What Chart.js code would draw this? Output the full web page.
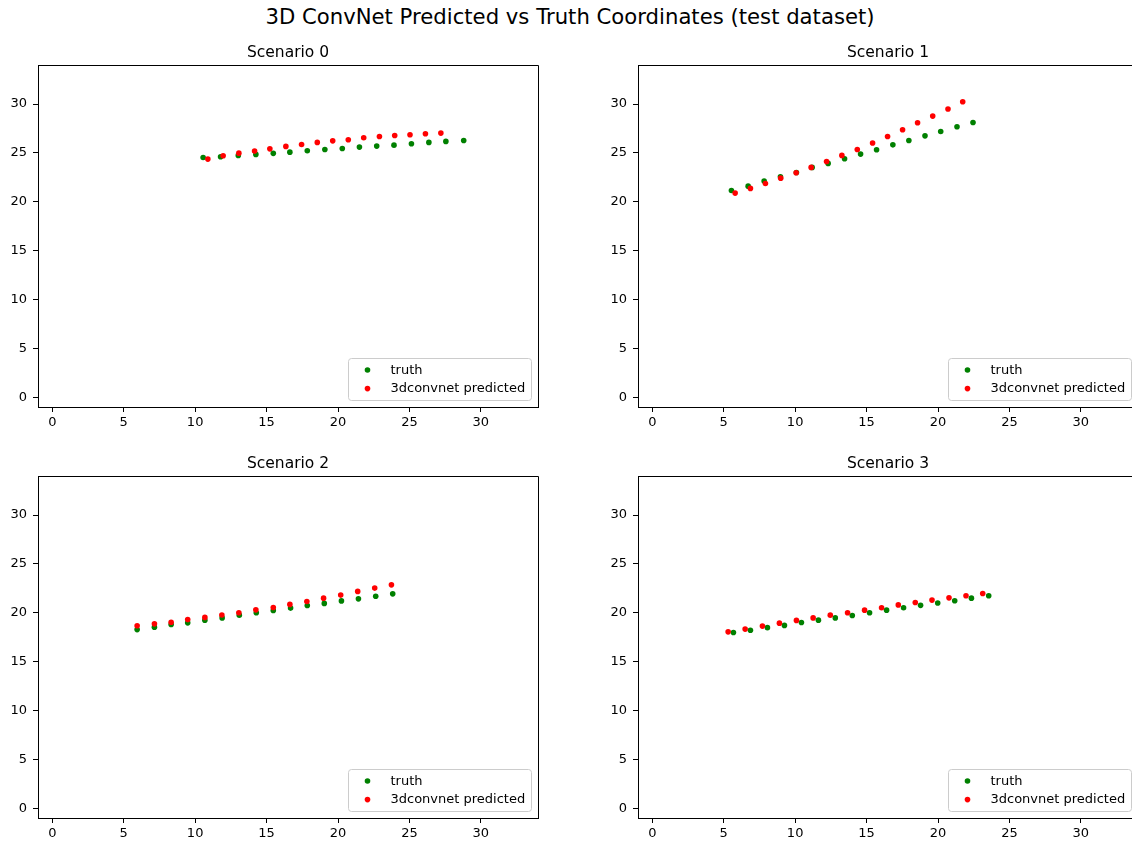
<!DOCTYPE html>
<html>
<head>
<meta charset="utf-8">
<script src="https://cdn.jsdelivr.net/npm/chart.js@4.4.1/dist/chart.umd.min.js"></script>
<style>
  body { margin: 0; width: 1132px; height: 842px; overflow: hidden; background: #fff; position: relative; font-family: "DejaVu Sans", sans-serif; }
  #suptitle { position: absolute; left: 0; top: 4px; width: 1140px; text-align: center; font-size: 21.2px; line-height: 26px; color: #000; }
  canvas { position: absolute; }
</style>
</head>
<body>
<div id="suptitle">3D ConvNet Predicted vs Truth Coordinates (test dataset)</div>
<canvas id="s0" width="560" height="410" style="left:0px;top:30px"></canvas>
<canvas id="s1" width="560" height="410" style="left:600px;top:30px"></canvas>
<canvas id="s2" width="560" height="410" style="left:0px;top:441px"></canvas>
<canvas id="s3" width="560" height="410" style="left:600px;top:441px"></canvas>
<script>
const scenarioTitles = ["Scenario 0", "Scenario 1", "Scenario 2", "Scenario 3"];
const seriesLabels = ["truth", "3dconvnet predicted"];
const tickValues = [0, 5, 10, 15, 20, 25, 30];
const axisMin = -1;
const axisMax = 34;

// scenario 0
const truthX0 = [10.56, 11.78, 13.02, 14.25, 15.47, 16.63, 17.85, 19.08, 20.30, 21.50, 22.71, 23.92, 25.14, 26.36, 27.55, 28.80];
const truthY0 = [24.54, 24.61, 24.75, 24.85, 24.96, 25.08, 25.22, 25.36, 25.46, 25.60, 25.70, 25.80, 25.94, 26.08, 26.18, 26.28];
const predX0 = [10.89, 11.96, 13.06, 14.16, 15.23, 16.35, 17.45, 18.55, 19.63, 20.72, 21.80, 22.90, 23.97, 25.04, 26.12, 27.20];
const predY0 = [24.37, 24.71, 24.98, 25.19, 25.42, 25.67, 25.87, 26.08, 26.24, 26.35, 26.55, 26.69, 26.79, 26.86, 26.96, 27.03];

// scenario 1
const truthX1 = [5.54, 6.71, 7.83, 8.97, 10.09, 11.19, 12.31, 13.46, 14.58, 15.70, 16.84, 17.96, 19.09, 20.19, 21.33, 22.45];
const truthY1 = [21.16, 21.60, 22.12, 22.56, 23.00, 23.52, 23.93, 24.40, 24.88, 25.32, 25.83, 26.28, 26.75, 27.20, 27.68, 28.12];
const predX1 = [5.80, 6.87, 7.92, 8.99, 10.07, 11.12, 12.20, 13.27, 14.35, 15.42, 16.47, 17.52, 18.57, 19.63, 20.70, 21.73];
const predY1 = [20.89, 21.37, 21.88, 22.42, 22.97, 23.52, 24.13, 24.75, 25.36, 26.01, 26.69, 27.37, 28.09, 28.77, 29.49, 30.24];

// scenario 2
const truthX2 = [5.94, 7.15, 8.32, 9.48, 10.68, 11.89, 13.09, 14.28, 15.47, 16.68, 17.85, 19.04, 20.24, 21.43, 22.64, 23.83];
const truthY2 = [18.28, 18.53, 18.81, 18.97, 19.25, 19.48, 19.76, 20.00, 20.24, 20.48, 20.75, 20.96, 21.22, 21.43, 21.70, 21.94];
const predX2 = [5.94, 7.15, 8.32, 9.48, 10.68, 11.87, 13.06, 14.25, 15.47, 16.63, 17.82, 18.99, 20.19, 21.38, 22.57, 23.74];
const predY2 = [18.67, 18.87, 19.04, 19.32, 19.53, 19.77, 20.00, 20.30, 20.55, 20.86, 21.16, 21.50, 21.81, 22.19, 22.53, 22.86];

// scenario 3
const truthX3 = [5.68, 6.87, 8.06, 9.25, 10.44, 11.63, 12.81, 14.00, 15.21, 16.40, 17.59, 18.78, 19.98, 21.17, 22.34, 23.55];
const truthY3 = [17.99, 18.22, 18.48, 18.71, 19.01, 19.25, 19.48, 19.73, 20.00, 20.27, 20.51, 20.76, 21.00, 21.23, 21.50, 21.74];
const predX3 = [5.31, 6.50, 7.71, 8.90, 10.09, 11.26, 12.46, 13.67, 14.86, 16.05, 17.22, 18.41, 19.58, 20.77, 21.96, 23.13];
const predY3 = [18.05, 18.33, 18.64, 18.94, 19.22, 19.48, 19.76, 20.00, 20.27, 20.51, 20.81, 21.06, 21.30, 21.53, 21.74, 21.98];

Chart.defaults.font.family = "'DejaVu Sans', sans-serif";
Chart.defaults.color = "#000";

function zip(xs, ys) {
    return xs.map((x, i) => ({ x: x, y: ys[i] }));
}

// top and right spines, like matplotlib's box
const framePlugin = {
    id: "frame",
    afterDatasetsDraw(chart) {
        const { ctx, chartArea: a } = chart;
        const top = Math.floor(a.top) + 0.5;
        const right = Math.floor(a.right) + 0.5;
        ctx.save();
        ctx.strokeStyle = "#000";
        ctx.lineWidth = 1;
        ctx.beginPath();
        ctx.moveTo(a.left, top);
        ctx.lineTo(right, top);
        ctx.lineTo(right, a.bottom);
        ctx.stroke();
        ctx.restore();
    }
};

// subplot title, centred over the axes and not over the whole canvas
const axesTitlePlugin = {
    id: "axesTitle",
    afterDraw(chart, args, opts) {
        const { ctx, chartArea: a } = chart;
        ctx.save();
        ctx.font = "15.5px 'DejaVu Sans'";
        ctx.fillStyle = "#000";
        ctx.textAlign = "center";
        ctx.textBaseline = "middle";
        ctx.fillText(opts.text, (a.left + a.right) / 2, a.top - 12.5);
        ctx.restore();
    }
};

// legend box in the lower right corner of the axes
const legendPlugin = {
    id: "innerLegend",
    afterDraw(chart) {
        const { ctx, chartArea: a } = chart;
        const sets = chart.data.datasets;
        ctx.save();
        ctx.font = "13px 'DejaVu Sans'";
        const textW = Math.max(...sets.map(d => ctx.measureText(d.label).width));
        const w = Math.round(42 + textW + 6);
        const h = 42;
        const x = Math.round(a.right - 7.5 - w) + 0.5;
        const y = Math.round(a.bottom - 7.5 - h) + 0.5;
        ctx.beginPath();
        ctx.roundRect(x, y, w, h, 3);
        ctx.fillStyle = "rgba(255,255,255,0.8)";
        ctx.fill();
        ctx.strokeStyle = "#cccccc";
        ctx.lineWidth = 1;
        ctx.stroke();
        sets.forEach((d, i) => {
            const cy = y + 11.5 + i * 18.6;
            ctx.fillStyle = d.backgroundColor;
            ctx.beginPath();
            ctx.arc(x + 19, cy, 2.8, 0, Math.PI * 2);
            ctx.fill();
            ctx.fillStyle = "#000";
            ctx.textBaseline = "middle";
            ctx.textAlign = "left";
            ctx.fillText(d.label, x + 42, cy + 0.5);
        });
        ctx.restore();
    }
};

function axisOptions(horizontal) {
    return {
        type: "linear",
        min: axisMin,
        max: axisMax,
        afterBuildTicks: (scale) => {
            scale.ticks = tickValues.map(v => ({ value: v }));
        },
        afterFit: (scale) => {
            if (horizontal) scale.height = 33;
            else scale.width = 38;
        },
        grid: {
            drawOnChartArea: false,
            drawTicks: true,
            tickLength: 5,
            tickColor: "#000",
            tickWidth: 1
        },
        border: { display: true, color: "#000", width: 1 },
        ticks: {
            color: "#000",
            font: { size: 13 },
            padding: horizontal ? 3 : 6,
            maxRotation: 0
        }
    };
}

function makeChart(id, title, tx, ty, px, py) {
    const ctx = document.getElementById(id);
    return new Chart(ctx, {
        type: "scatter",
        data: {
            datasets: [{
                label: seriesLabels[0],
                data: zip(tx, ty),
                backgroundColor: "green",
                borderWidth: 0,
                pointRadius: 2.8,
                pointHoverRadius: 2.8,
                order: 2
            }, {
                label: seriesLabels[1],
                data: zip(px, py),
                backgroundColor: "red",
                borderWidth: 0,
                pointRadius: 2.8,
                pointHoverRadius: 2.8,
                order: 1
            }]
        },
        options: {
            responsive: false,
            animation: false,
            events: [],
            layout: { padding: { left: 0, right: 22, top: 35, bottom: 0 } },
            plugins: {
                legend: { display: false },
                tooltip: { enabled: false },
                title: { display: false },
                axesTitle: { text: title }
            },
            scales: {
                x: axisOptions(true),
                y: axisOptions(false)
            }
        },
        plugins: [framePlugin, axesTitlePlugin, legendPlugin]
    });
}

makeChart("s0", scenarioTitles[0], truthX0, truthY0, predX0, predY0);
makeChart("s1", scenarioTitles[1], truthX1, truthY1, predX1, predY1);
makeChart("s2", scenarioTitles[2], truthX2, truthY2, predX2, predY2);
makeChart("s3", scenarioTitles[3], truthX3, truthY3, predX3, predY3);
</script>
</body>
</html>
